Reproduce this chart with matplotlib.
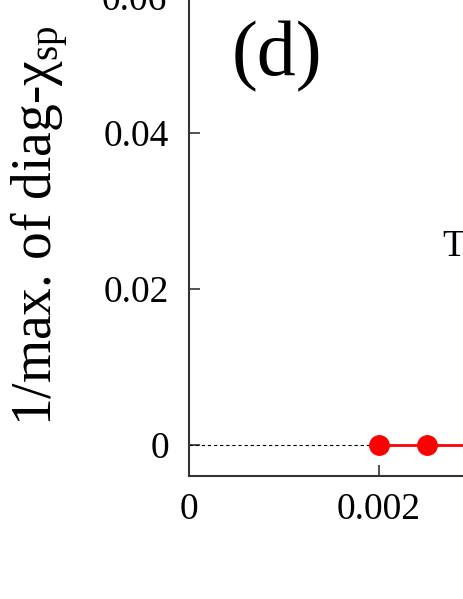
import matplotlib
matplotlib.use("Agg")
import matplotlib.pyplot as plt

plt.rcParams['font.family'] = ['Liberation Serif', 'DejaVu Serif']
plt.rcParams['mathtext.fontset'] = 'custom'
plt.rcParams['mathtext.rm'] = 'Liberation Serif'
plt.rcParams['mathtext.it'] = 'Liberation Serif:italic'

# data
x_vals = [0.002, 0.0025, 0.003]
y_vals = [0.0, 0.0, 0.0]
dash_x = [0.0, 0.002]
dash_y = [0.0, 0.0]
xticks = [0, 0.002]
xticklabels = ["0", "0.002"]
yticks = [0, 0.02, 0.04]
yticklabels = ["0", "0.02", "0.04"]
top_label = "0.06"

fig = plt.figure(figsize=(4.63, 5.99), dpi=100)
ax = fig.add_axes([188.5/463, (599-476.2)/599, 381/463, (476.2+101)/599])
ax.set_xlim(0, 0.004)
ax.set_ylim(-0.004, 0.07)

ax.plot(dash_x, dash_y, color='black', lw=0.8, ls=(0, (3, 2.5)))
ax.plot(x_vals, y_vals, color='#ff0000', lw=2, marker='o', ms=14, clip_on=False)

ax.set_xticks(xticks)
ax.set_xticklabels(xticklabels)
ax.set_yticks(yticks)
ax.set_yticklabels(yticklabels)
ax.tick_params(direction='in', length=8, width=1.2, labelsize=27, color='#333333')
ax.tick_params(axis='x', pad=12)
ax.tick_params(axis='y', pad=14)
for s in ax.spines.values():
    s.set_linewidth(1.5)
    s.set_color('#333333')

fig.text(167/463, 1-1/599, top_label, fontsize=27, ha='right', va='center')
fig.text(40/463, 1-226/599, "1/max. of diag-χ$_{\\rm sp}$", rotation=90,
         fontsize=40, ha='center', va='center')
fig.text(277/463, 1-57/599, "(d)", fontsize=56, ha='center', va='center')
fig.text(442/463, 1-247/599, "T", fontsize=27, ha='left', va='center')

fig.savefig("out.png", dpi=100)
